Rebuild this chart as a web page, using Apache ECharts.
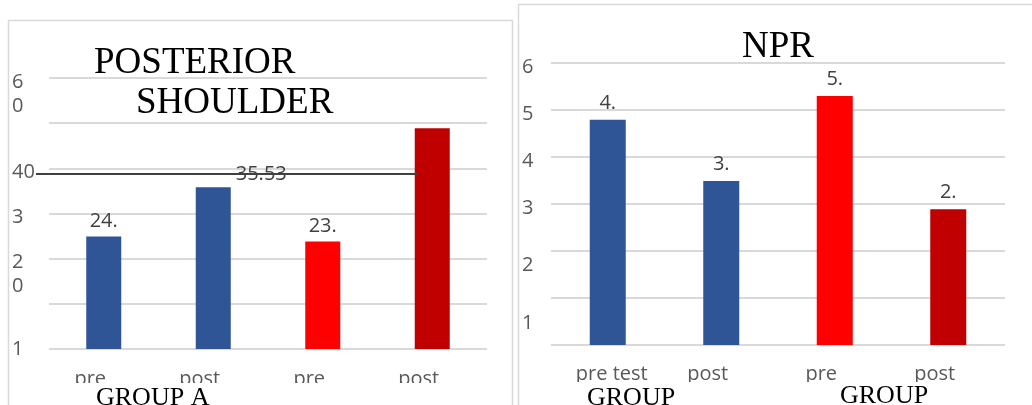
<!DOCTYPE html>
<html>
<head>
<meta charset="utf-8">
<script src="https://cdn.jsdelivr.net/npm/echarts@6/dist/echarts.min.js"></script>
<style>
html,body{margin:0;padding:0;background:#fff}
#main{width:1032px;height:405px}
</style>
</head>
<body>
<div id="main"></div>
<script>
var leftCategories = ['pre', 'post', 'pre', 'post'];
var leftValues = [24.9, 35.8, 23.8, 48.9];
var leftBarLabels = ['24.', '35.53', '23.', ''];
var leftTickLabels = ['1', '', '2\n0', '3', '40', '', '6\n0'];

var rightCategories = ['pre test', 'post', 'pre', 'post'];
var rightValues = [4.79, 3.49, 5.3, 2.89];
var rightBarLabels = ['4.', '3.', '5.', '2.'];
var rightTickLabels = ['', '1', '2', '3', '4', '5', '6'];

var barColors = ['#2f5597', '#2f5597', '#ff0000', '#c00000'];

var chart = echarts.init(document.getElementById('main'));
var sans = 'Open Sans';
var serif = 'Liberation Serif';
var gray = '#595959';

var barData = function (values) {
	return values.map(function (v, i) {
		return {value: v, itemStyle: {color: barColors[i]}};
	});
};
var leftData = barData(leftValues);
leftData[1].label = {offset: [48, 2]};

// tick label text pushed down below its gridline (as in the source picture)
var tickRich = {
	t: {fontSize: 20, fontFamily: sans, color: gray, lineHeight: 24}
};
var tickLabel = function (text, shift) {
	if (!text) return '';
	var lines = text.split('\n');
	var body = lines.map(function (l) { return '{t|' + l + '}'; }).join('\n');
	var s = 2 * shift + 24 * (lines.length - 1);
	if (s <= 0) return body;
	var name = 's' + s;
	if (!tickRich[name]) tickRich[name] = {fontSize: 1, lineHeight: s};
	return '{' + name + '| }\n' + body;
};
var leftShift = {0: 0};
var rightShift = {1: 25, 2: 14};
var shiftOf = function (map, i) {
	return map[i] === undefined ? 4 : map[i];
};

var catLabel = function (margin, padFn) {
	return {
		margin: margin,
		interval: 0,
		formatter: function (v, i) {
			return '{' + padFn(i) + '|' + v + '}';
		},
		rich: {
			l: {fontSize: 20, fontFamily: sans, color: gray, padding: [0, 27, 0, 0]},
			r: {fontSize: 20, fontFamily: sans, color: gray, padding: [0, 0, 0, 8]}
		}
	};
};

// build the rich styles up front
leftTickLabels.forEach(function (t, i) { tickLabel(t, shiftOf(leftShift, i)); });
rightTickLabels.forEach(function (t, i) { tickLabel(t, shiftOf(rightShift, i)); });

var option = {
	animation: false,
	title: [
		{text: 'POSTERIOR', left: 94, top: 45, padding: 0, z: 200, textStyle: {fontFamily: serif, fontSize: 37, fontWeight: 'normal', color: '#000'}},
		{text: 'SHOULDER', left: 136, top: 85, padding: 0, z: 200, textStyle: {fontFamily: serif, fontSize: 37, fontWeight: 'normal', color: '#000'}},
		{text: 'NPR', left: 742, top: 29, padding: 0, z: 200, textStyle: {fontFamily: serif, fontSize: 37, fontWeight: 'normal', color: '#000'}},
		{text: 'GROUP A', left: 96, top: 385, padding: 0, z: 200, textStyle: {fontFamily: serif, fontSize: 26, fontWeight: 'normal', color: '#000'}},
		{text: 'GROUP', left: 587, top: 385, padding: 0, z: 200, textStyle: {fontFamily: serif, fontSize: 26, fontWeight: 'normal', color: '#000'}},
		{text: 'GROUP', left: 840, top: 383, padding: 0, z: 200, textStyle: {fontFamily: serif, fontSize: 26, fontWeight: 'normal', color: '#000'}}
	],
	grid: [
		{left: 49, right: 545, top: 78, bottom: 56},
		{left: 551, right: 27, top: 63, bottom: 60}
	],
	xAxis: [
		{
			type: 'category', gridIndex: 0, data: leftCategories,
			axisLine: {show: false}, axisTick: {show: false},
			axisLabel: catLabel(20, function () { return 'l'; })
		},
		{
			type: 'category', gridIndex: 1, data: rightCategories,
			axisLine: {show: false}, axisTick: {show: false},
			axisLabel: catLabel(19, function (i) { return i === 0 ? 'r' : 'l'; })
		}
	],
	yAxis: [
		{
			type: 'value', gridIndex: 0, min: 0, max: 60, interval: 10,
			splitLine: {lineStyle: {color: '#d9d9d9', width: 2}},
			axisLabel: {
				align: 'left', margin: 37, fontSize: 20, fontFamily: sans, color: gray,
				rich: tickRich,
				formatter: function (v) {
					var i = Math.round(v / 10);
					return tickLabel(leftTickLabels[i], shiftOf(leftShift, i));
				}
			}
		},
		{
			type: 'value', gridIndex: 1, min: 0, max: 6, interval: 1,
			splitLine: {lineStyle: {color: '#d9d9d9', width: 2}},
			axisLabel: {
				align: 'left', margin: 29, fontSize: 20, fontFamily: sans, color: gray,
				rich: tickRich,
				formatter: function (v) {
					var i = Math.round(v);
					return tickLabel(rightTickLabels[i], shiftOf(rightShift, i));
				}
			}
		}
	],
	series: [
		{
			type: 'bar', xAxisIndex: 0, yAxisIndex: 0, barWidth: 35,
			data: leftData,
			label: {
				show: true, position: 'top', distance: 5,
				fontSize: 20, fontFamily: sans, color: '#404040',
				formatter: function (p) { return leftBarLabels[p.dataIndex]; }
			}
		},
		{
			type: 'bar', xAxisIndex: 1, yAxisIndex: 1, barWidth: 36,
			data: barData(rightValues),
			label: {
				show: true, position: 'top', distance: 7,
				fontSize: 20, fontFamily: sans, color: '#404040',
				formatter: function (p) { return rightBarLabels[p.dataIndex]; }
			}
		}
	],
	graphic: [
		{type: 'rect', z: 100, silent: true, shape: {x: 9, y: 383, width: 503, height: 30}, style: {fill: '#fff'}},
		{type: 'rect', z: 100, silent: true, shape: {x: 519, y: 382, width: 520, height: 30}, style: {fill: '#fff'}},
		{type: 'rect', z: 101, silent: true, shape: {x: 8.5, y: 20.5, width: 504, height: 420}, style: {fill: 'none', stroke: '#d9d9d9', lineWidth: 1.5}},
		{type: 'rect', z: 101, silent: true, shape: {x: 518.5, y: 4.5, width: 530, height: 420}, style: {fill: 'none', stroke: '#d9d9d9', lineWidth: 1.5}},
		{type: 'line', z: 102, silent: true, shape: {x1: 36, y1: 174, x2: 418, y2: 174}, style: {stroke: '#404040', lineWidth: 2}}
	]
};
chart.setOption(option);
</script>
</body>
</html>
